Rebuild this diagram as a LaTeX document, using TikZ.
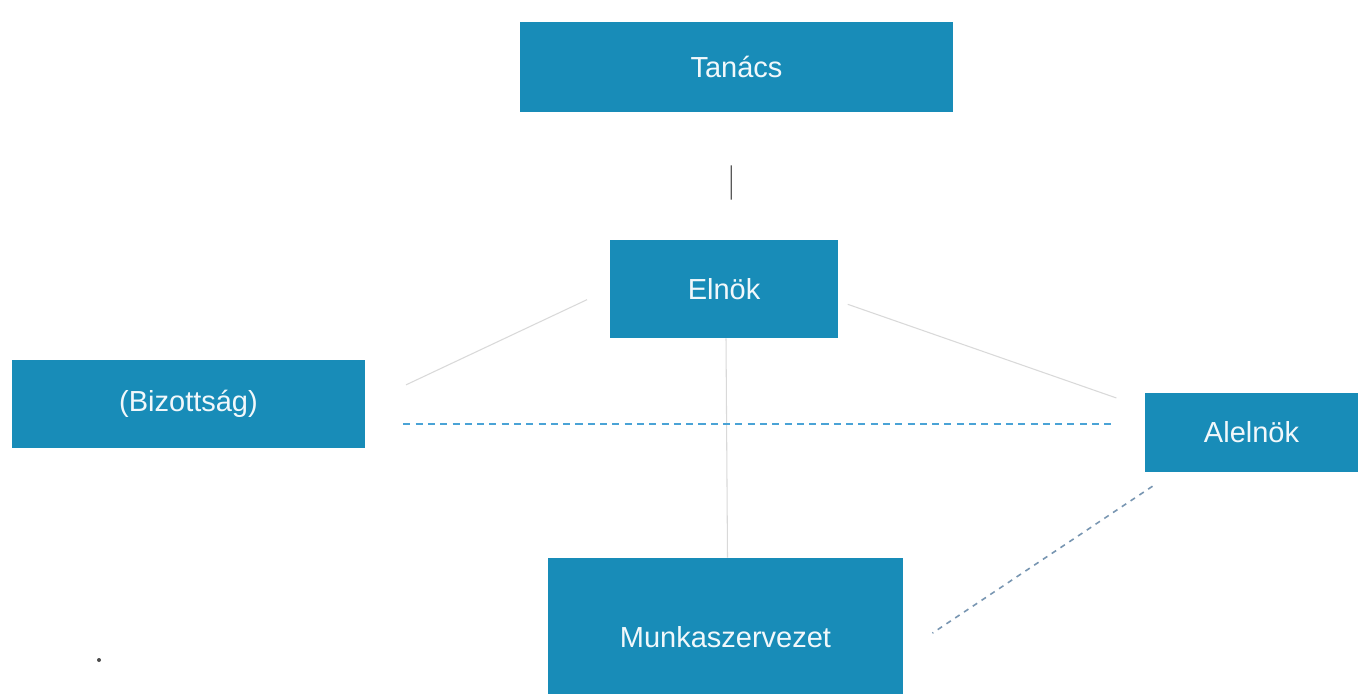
\documentclass[tikz,border=0pt]{standalone}
\usepackage{fontspec}
\setmainfont{Liberation Sans}
\usetikzlibrary{positioning}
\definecolor{boxblue}{RGB}{24,140,184}
\definecolor{dashblue}{RGB}{74,163,214}
\definecolor{dashgrey}{RGB}{120,150,178}
\begin{document}
\begin{tikzpicture}[x = 0.02cm, y = -0.02cm,
  box/.style = {fill = boxblue, text = white!94!boxblue, inner sep = 0pt,
    font = \fontsize{16.5}{20}\selectfont},
  faint/.style = {draw = gray!30, line width = .6pt},
  dashlink/.style = {draw = dashblue, line width = 1.1pt, dash pattern = on 4pt off 3pt}]
\useasboundingbox[fill = white] (0,0) rectangle (1358,693);
\node[box, minimum width = 8.66cm, minimum height = 1.8cm] (tanacs) at (736.5,67) {Tanács};
\node[box, minimum width = 4.56cm, minimum height = 1.96cm] (elnok) at (724,289) {Elnök};
\node[box, minimum width = 7.06cm, minimum height = 1.76cm] (bizottsag) at (188.5,404) {(Bizottság)};
\node[box, minimum width = 4.26cm, minimum height = 1.58cm] (alelnok) at (1251.5,432.5) {Alelnök};
\node[box, minimum width = 7.1cm, minimum height = 3.16cm] (munka) at (725.5,637) {Munkaszervezet};
\coordinate (dot) at (99,660);
\draw[gray!70!black, line width = .7pt, shorten < = 1.06cm, shorten > = .8cm] ([xshift = -.1cm]tanacs.south) -- ([xshift = .14cm]elnok.north);
\draw[faint, shorten < = .5cm, shorten > = .9cm] (elnok.west) -- (bizottsag.east);
\draw[faint, shorten < = .2cm, shorten > = .6cm] (elnok.-6) -- (alelnok.167);
\draw[faint] ([xshift = .04cm]elnok.south) -- ([xshift = .04cm]munka.north);
\draw[dashlink, shorten < = .76cm, shorten > = .6cm] ([yshift = -.4cm]bizottsag.east) -- ([yshift = -.4cm]bizottsag.east -| alelnok.west);
\draw[dashlink, draw = dashgrey, line width = .9pt, dash pattern = on 3pt off 3pt, shorten < = .5cm, shorten > = .7cm] (alelnok.207) -- (munka.-5);
\fill[gray!60!black] (dot) circle (.04cm);
\end{tikzpicture}
\end{document}
